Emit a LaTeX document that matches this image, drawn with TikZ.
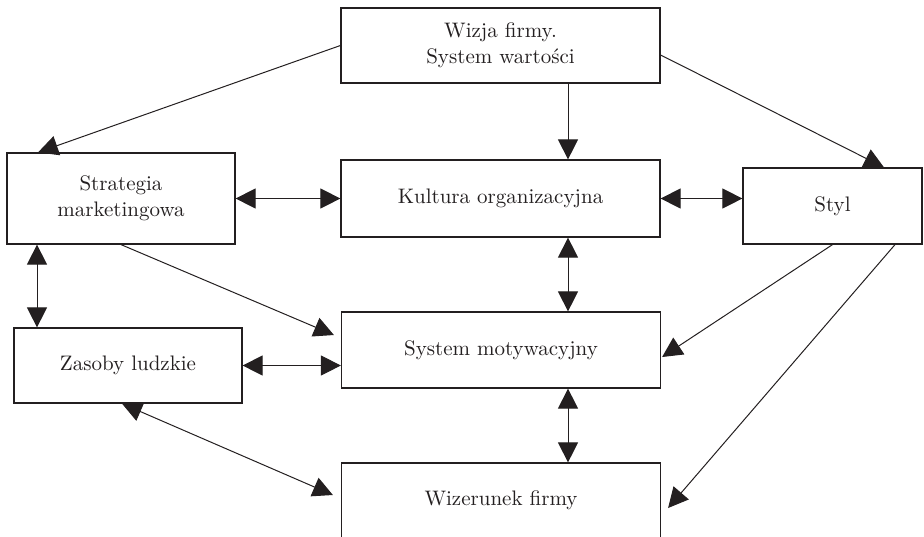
\documentclass[tikz,border=0pt]{standalone}
\usepackage{xcolor}
\usepackage{tikz}
\usetikzlibrary{arrows.meta,positioning,calc}

\definecolor{ink}{HTML}{231F20}

\begin{document}
\begin{tikzpicture}[x=0.5pt,y=-0.5pt,
  box/.style={draw=ink,line width=0.6pt,inner sep=0pt,align=center,font=\fontsize{10.5}{13}\selectfont,text=ink},
  wide/.style={box,minimum width=159.5pt,minimum height=38pt},
  side/.style={box,minimum width=114pt},
  arr/.style={draw=ink,line width=0.5pt,-{Triangle[length=10pt,width=10pt]}},
  barr/.style={draw=ink,line width=0.5pt,{Triangle[length=10pt,width=10pt]}-{Triangle[length=10pt,width=10pt]}}]
\useasboundingbox (0,0) rectangle (924,536);
\node[wide,minimum height=37.5pt] (wizja) at (500.5,45.5) {Wizja firmy.\\System wartości};
\node[wide,minimum height=38.5pt] (kultura) at (500.5,198.5) {Kultura organizacyjna};
\node[wide] (system) at (501,350) {System motywacyjny};
\node[wide,minimum height=37.5pt] (wizerunek) at (501,500.5) {Wizerunek firmy};
\node[side,minimum height=45.5pt] (strategia) at (121,198.5) {Strategia\\marketingowa};
\node[side,minimum height=37.5pt] (zasoby) at (128,365.5) {Zasoby ludzkie};
\node[box,minimum width=89.5pt,minimum height=38pt] (styl) at (832.5,206) {Styl};
% connectors from the vision box
\draw[arr] (wizja.west) -- ([xshift=-41.5pt]strategia.north);
\draw[arr] ([yshift=-4.75pt]wizja.east) -- ([xshift=25.75pt]styl.north);
\draw[arr] ([xshift=33.75pt]wizja.south) -- ([xshift=33.75pt]kultura.north);
% two-way links
\draw[barr] (strategia.east) -- (kultura.west);
\draw[barr] (kultura.east) -- (kultura.east -| styl.west);
\draw[barr] ([xshift=33.75pt]kultura.south) -- ([xshift=33.5pt]system.north);
\draw[barr] ([xshift=33.5pt]system.south) -- ([xshift=33.5pt]wizerunek.north);
\draw[barr] (zasoby.east) -- (zasoby.east -| system.west);
\draw[barr] ([xshift=-42pt]strategia.south) -- ([xshift=-42pt]strategia.south |- zasoby.north);
\draw[barr] ([xshift=-3pt]zasoby.south) -- ([shift={(-4pt,2.75pt)}]wizerunek.west);
% one-way links
\draw[arr] (strategia.south) -- ([shift={(-3.5pt,7.5pt)}]system.west);
\draw[arr] (styl.south) -- ([shift={(0.5pt,-3.5pt)}]system.east);
\draw[arr] ([xshift=31.25pt]styl.south) -- ([shift={(3.5pt,-3.75pt)}]wizerunek.east);
\end{tikzpicture}
\end{document}
